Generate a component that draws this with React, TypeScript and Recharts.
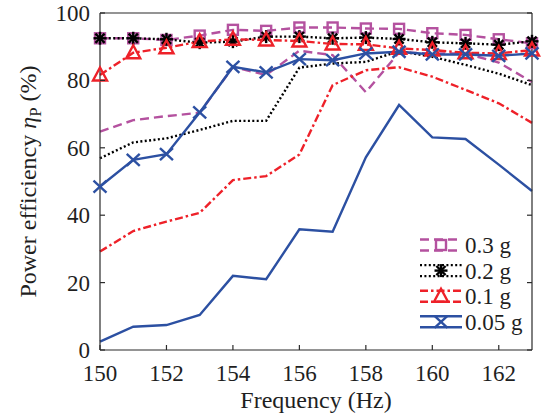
import React from "react";
import { LineChart, Line, XAxis, YAxis, Legend, Label } from "recharts";

// frequency sweep (Hz)
const freq = [150, 151, 152, 153, 154, 155, 156, 157, 158, 159, 160, 161, 162, 163];

// power efficiency (%) — two curves per excitation level (with / without markers)
const g03Marked = [92.5, 92.5, 92, 93.3, 95, 94.7, 95.7, 95.7, 95.4, 95.3, 94, 93.5, 92.2, 91];
const g03Plain = [64.8, 68.2, 69.4, 70.4, 84, 81.6, 88.8, 87.5, 76.5, 88.3, 88, 88, 85.3, 79.5];
const g02Marked = [92.5, 92.5, 92.2, 91.2, 91.5, 93, 93, 92.5, 92.7, 92.3, 91.3, 91, 90.6, 91.6];
const g02Plain = [56.9, 61.6, 62.8, 65.3, 68, 68, 83.8, 85, 85.5, 88.7, 87, 84.6, 82, 78.6];
const g01Marked = [81.6, 88.2, 89.7, 91.5, 92.2, 92, 91.7, 90.8, 90.7, 89.5, 89, 88.2, 88, 89];
const g01Plain = [29.2, 35.3, 38.1, 40.7, 50.4, 51.6, 58, 78.6, 83, 83.9, 81.1, 77.2, 73.2, 67.4];
const g005Marked = [48.5, 56.4, 58.1, 70.5, 84, 82.4, 86.3, 86, 88, 88.5, 87.7, 87.7, 87.3, 88];
const g005Plain = [2.5, 6.9, 7.4, 10.4, 22, 21, 35.8, 35.1, 57.2, 72.7, 63.1, 62.6, 55, 47.2];

const xTicks = [150, 152, 154, 156, 158, 160, 162];
const yTicks = [0, 20, 40, 60, 80, 100];
const legendLabels = ["0.3 g", "0.2 g", "0.1 g", "0.05 g"];

const data = freq.map((f, i) => ({
  f,
  g03m: g03Marked[i],
  g03: g03Plain[i],
  g02m: g02Marked[i],
  g02: g02Plain[i],
  g01m: g01Marked[i],
  g01: g01Plain[i],
  g005m: g005Marked[i],
  g005: g005Plain[i],
}));

const AXIS = "#2b2b2b";
const TEXT = "#1f1f1f";
const txt = { fontFamily: '"Liberation Serif", serif', fontSize: 23, fill: TEXT };
const title = { ...txt, fontSize: 24 };

type Kind = "square" | "star" | "triangle" | "cross";

const series: { key: string; kind: Kind; color: string; dash?: string }[] = [
  { key: "g03", kind: "square", color: "#B4519F", dash: "9 5" },
  { key: "g02", kind: "star", color: "#000000", dash: "2 2.4" },
  { key: "g01", kind: "triangle", color: "#EE2129", dash: "8 3 2.5 3" },
  { key: "g005", kind: "cross", color: "#2C50A2" },
];

const Marker = ({ kind, cx, cy, color }: { kind: Kind; cx: number; cy: number; color: string }) => {
  const sw = 2.4;
  if (kind === "square")
    return <rect x={cx - 5} y={cy - 5} width={10} height={10} fill="none" stroke={color} strokeWidth={sw} />;
  if (kind === "triangle")
    return (
      <path
        d={`M${cx},${cy - 7.5} L${cx + 7},${cy + 5.5} L${cx - 7},${cy + 5.5} Z`}
        fill="none"
        stroke={color}
        strokeWidth={sw}
      />
    );
  if (kind === "star")
    return (
      <g stroke={color} strokeWidth={sw}>
        <line x1={cx - 6.5} x2={cx + 6.5} y1={cy} y2={cy} />
        <line x1={cx} x2={cx} y1={cy - 6.5} y2={cy + 6.5} />
        <line x1={cx - 4.6} x2={cx + 4.6} y1={cy - 4.6} y2={cy + 4.6} />
        <line x1={cx - 4.6} x2={cx + 4.6} y1={cy + 4.6} y2={cy - 4.6} />
      </g>
    );
  return (
    <g stroke={color} strokeWidth={sw}>
      <line x1={cx - 6.5} x2={cx + 6.5} y1={cy - 6} y2={cy + 6} />
      <line x1={cx - 6.5} x2={cx + 6.5} y1={cy + 6} y2={cy - 6} />
    </g>
  );
};

const BottomTick = ({ x, y, payload }: any) => (
  <g>
    <line x1={x} x2={x} y1={y} y2={y - 5} stroke={AXIS} strokeWidth={1.2} />
    <text x={x} y={y + 31} textAnchor="middle" style={txt}>
      {payload.value}
    </text>
  </g>
);

const TopTick = ({ x, y }: any) => <line x1={x} x2={x} y1={y} y2={y + 5} stroke={AXIS} strokeWidth={1.2} />;

const LeftTick = ({ x, y, payload }: any) => (
  <g>
    <line x1={x} x2={x + 5} y1={y} y2={y} stroke={AXIS} strokeWidth={1.2} />
    <text x={x - 10} y={y + 8} textAnchor="end" style={txt}>
      {payload.value}
    </text>
  </g>
);

const RightTick = ({ x, y }: any) => <line x1={x} x2={x - 5} y1={y} y2={y} stroke={AXIS} strokeWidth={1.2} />;

const renderLegend = () => (
  <svg width={125} height={105}>
    {series.map((s, i) => {
      const cy = 12 + i * 25.6;
      return (
        <g key={s.key}>
          <line x1={2} x2={44} y1={cy - 5.5} y2={cy - 5.5} stroke={s.color} strokeWidth={2.4} strokeDasharray={s.dash} />
          <line x1={2} x2={44} y1={cy + 5.5} y2={cy + 5.5} stroke={s.color} strokeWidth={2.4} strokeDasharray={s.dash} />
          <Marker kind={s.kind} cx={23} cy={cy} color={s.color} />
          <text x={47} y={cy + 8} style={txt}>
            {legendLabels[i]}
          </text>
        </g>
      );
    })}
  </svg>
);

const YLabel = ({ viewBox }: any) => {
  const x = 36;
  const y = viewBox.y + viewBox.height / 2;
  return (
    <text x={x} y={y} transform={`rotate(-90 ${x} ${y})`} textAnchor="middle" style={title}>
      <tspan>Power efficiency </tspan>
      <tspan fontStyle="italic">η</tspan>
      <tspan fontSize={17} dy={5}>P</tspan>
      <tspan dy={-5}> (%)</tspan>
    </text>
  );
};

const XLabel = ({ viewBox }: any) => (
  <text x={viewBox.x + viewBox.width / 2} y={viewBox.y + 58} textAnchor="middle" style={title}>
    Frequency (Hz)
  </text>
);

export default function App() {
  return (
    <div style={{ position: "absolute", left: 0, top: 0, width: 541, height: 419, background: "#fff" }}>
      <LineChart width={541} height={419} data={data} margin={{ top: 0, right: 0, bottom: 0, left: 0 }}>
        <XAxis
          dataKey="f"
          type="number"
          domain={[150, 163]}
          ticks={xTicks}
          interval={0}
          height={69}
          tickSize={0}
          tickMargin={0}
          tickLine={false}
          axisLine={{ stroke: AXIS, strokeWidth: 1.2 }}
          tick={BottomTick}
        >
          <Label content={XLabel} />
        </XAxis>
        <XAxis
          xAxisId="top"
          orientation="top"
          type="number"
          domain={[150, 163]}
          allowDataOverflow
          ticks={xTicks}
          interval={0}
          height={13}
          tickSize={0}
          tickMargin={0}
          tickLine={false}
          axisLine={{ stroke: AXIS, strokeWidth: 1.2 }}
          tick={TopTick}
        />
        <YAxis
          type="number"
          domain={[0, 100]}
          ticks={yTicks}
          interval={0}
          width={100}
          tickSize={0}
          tickMargin={0}
          tickLine={false}
          axisLine={{ stroke: AXIS, strokeWidth: 1.2 }}
          tick={LeftTick}
        >
          <Label content={YLabel} />
        </YAxis>
        <YAxis
          yAxisId="right"
          orientation="right"
          type="number"
          domain={[0, 100]}
          allowDataOverflow
          ticks={yTicks}
          interval={0}
          width={9}
          tickSize={0}
          tickMargin={0}
          tickLine={false}
          axisLine={{ stroke: AXIS, strokeWidth: 1.2 }}
          tick={RightTick}
        />
        {series.map((s) => [
          <Line
            key={s.key + "m"}
            dataKey={s.key + "m"}
            stroke={s.color}
            strokeWidth={2.4}
            strokeDasharray={s.dash}
            isAnimationActive={false}
            activeDot={false}
            dot={(p: any) => <Marker key={s.key + "m" + p.index} kind={s.kind} cx={p.cx} cy={p.cy} color={s.color} />}
          />,
          <Line
            key={s.key}
            dataKey={s.key}
            stroke={s.color}
            strokeWidth={2.4}
            strokeDasharray={s.dash}
            isAnimationActive={false}
            activeDot={false}
            dot={false}
          />,
        ])}
        <Legend
          layout="vertical"
          align="center"
          verticalAlign="middle"
          content={renderLegend}
          wrapperStyle={{ left: 418, top: 233, width: 125, height: 105 }}
        />
      </LineChart>
    </div>
  );
}
